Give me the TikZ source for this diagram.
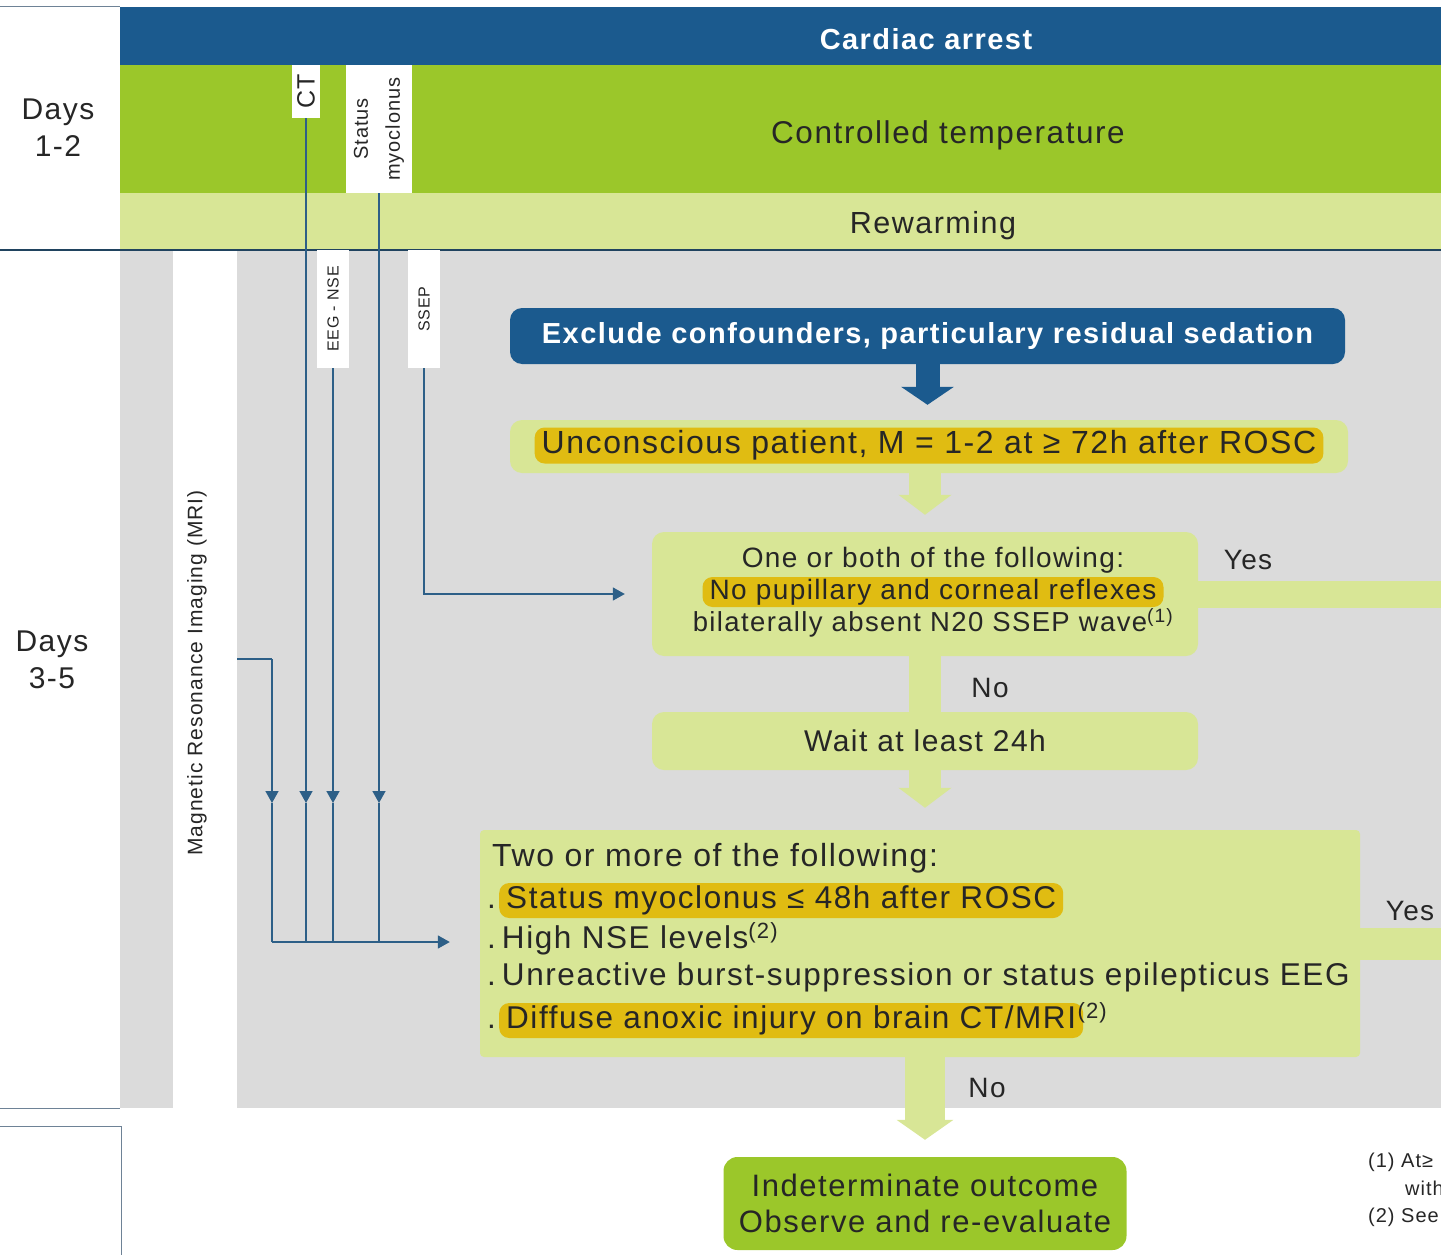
\documentclass[tikz,border=0pt]{standalone}
\usepackage{fontspec}
\setmainfont{Liberation Sans}[LetterSpace=5]
\usepackage{xcolor}
\usetikzlibrary{arrows.meta,positioning}
\definecolor{darkblue}{RGB}{27,90,142}
\definecolor{limegreen}{RGB}{155,199,42}
\definecolor{palegreen}{RGB}{216,230,150}
\definecolor{bggray}{RGB}{219,219,219}
\definecolor{golden}{RGB}{224,188,18}
\definecolor{inkgray}{RGB}{38,38,38}
\definecolor{steel}{RGB}{45,95,135}
\definecolor{rulegray}{RGB}{110,130,150}
\tikzset{%
    txt/.style={text=inkgray, inner sep=0pt, font=\fontsize{#1}{#1}\selectfont},
    txt/.default=30,
    tag/.style={fill=white, rotate=90, inner sep=0pt, text=inkgray},
    pgbox/.style={fill=palegreen, rounded corners=12pt, inner sep=0pt},
    hilite/.style={fill=golden, rounded corners=10pt, inner xsep=7pt, inner ysep=3pt, text=inkgray},
    flow/.style={draw=steel, line width=1.6pt},
    flowarr/.style={flow, -{Triangle[width=13pt,length=12pt]}},
    greenlink/.style={draw=palegreen, line width=32pt},
    greenarr/.style={greenlink, -{Triangle[width=52pt,length=20pt]}},
    bluearr/.style={draw=darkblue, line width=24pt, -{Triangle[width=52pt,length=18pt]}}
}

\begin{document}
\begin{tikzpicture}[x=1pt,y=-1pt]
    \useasboundingbox (0,0) rectangle (1441,1255);
    \clip (0,0) rectangle (1441,1255);

    % time bands
    \fill[darkblue] (120,7) rectangle (1441,65);
    \fill[limegreen] (120,65) rectangle (1441,193);
    \fill[palegreen] (120,193) rectangle (1441,250);
    \fill[bggray] (120,250) rectangle (1441,1108);
    \fill[white] (173,250) rectangle (237,1108);
    \draw[rulegray, line width=1pt] (0,7) -- (120,7);
    \draw[steel!70!black, line width=1.2pt] (0,250) -- (1441,250);
    \draw[rulegray, line width=1pt] (0,1108) -- (120,1108);
    \draw[rulegray, line width=1pt] (0,1126) -- (121,1126) -- (121,1255);

    \node[txt={30}, align=center, font=\fontsize{30}{37}\selectfont] (days12) at (58,128) {Days\\1-2};
    \node[txt={30}, align=center, font=\fontsize{30}{37}\selectfont] (days35) at (52,660) {Days\\3-5};
    \node[txt={29}, text=white, font=\fontsize{29}{29}\selectfont\bfseries] (arrest) at (926,39) {Cardiac arrest};
    \node[txt={31.5}] (temp) at (948,135) {Controlled temperature};
    \node[txt={30.5}] (rewarm) at (933,226) {Rewarming};

    % investigations
    \node[tag, minimum width=53, minimum height=28, font=\fontsize{25}{25}\selectfont] (ct) at (306,91.5) {CT};
    \node[tag, minimum width=128, minimum height=66, align=center, font=\fontsize{20}{32}\selectfont] (myo) at (379,129) {Status\\myoclonus};
    \node[tag, minimum width=118, minimum height=32, font=\fontsize{16}{16}\selectfont] (eeg) at (333,309) {EEG - NSE};
    \node[tag, minimum width=118, minimum height=32, font=\fontsize{16}{16}\selectfont] (ssep) at (424,309) {SSEP};
    \node[rotate=90, txt={21}] (mri) at (197,673) {Magnetic Resonance Imaging (MRI)};

    % flow boxes
    \node[fill=darkblue, rounded corners=12pt, minimum width=835, minimum height=56, text=white,
        font=\fontsize{29}{29}\selectfont\bfseries] (exclude) at (927.5,336) {Exclude confounders, particulary residual sedation};
    \node[pgbox, minimum width=838, minimum height=53] (uncons) at (929,446.5) {};
    \node[hilite, text height=23pt, text depth=7pt, font=\fontsize{32}{32}\selectfont] (unconstxt) at (929,445.5) {Unconscious patient, M = 1-2 at ≥ 72h after ROSC};

    \node[pgbox, minimum width=546, minimum height=124] (oneboth) at (925,594) {};
    \node[txt={28}] (ob1) at (933,560) {One or both of the following:};
    \node[hilite, inner ysep=2pt, text height=20pt, text depth=6pt, font=\fontsize{28}{28}\selectfont] (ob2) at (933,592) {No pupillary and corneal reflexes};
    \node[txt={27.5}] (ob3) at (933,623) {bilaterally absent N20 SSEP wave\textsuperscript{(1)}};

    \node[pgbox, minimum width=546, minimum height=58, text=inkgray, font=\fontsize{30}{30}\selectfont] (wait) at (925,741) {Wait at least 24h};

    \node[fill=palegreen, rounded corners=4pt, minimum width=880, minimum height=227] (two) at (920,943.5) {};
    \node[txt={32}, anchor=base west] (l1) at (492,866) {Two or more of the following:};
    \node[txt={31.5}, anchor=base west] (l2dot) at (487,908) {.};
    \node[hilite, anchor=base west, text height=22pt, text depth=7pt, font=\fontsize{31.5}{31.5}\selectfont] (l2) at (499,908) {Status myoclonus ≤ 48h after ROSC};
    \node[txt={31.5}, anchor=base west] (l3) at (487,948) {.\hspace{6pt}High NSE levels\textsuperscript{(2)}};
    \node[txt={31.5}, anchor=base west] (l4) at (487,985) {.\hspace{6pt}Unreactive burst-suppression or status epilepticus EEG};
    \node[txt={31.5}, anchor=base west] (l5dot) at (487,1028) {.};
    \node[hilite, anchor=base west, text height=22pt, text depth=7pt, font=\fontsize{31.5}{31.5}\selectfont] (l5) at (499,1028) {Diffuse anoxic injury on brain CT/MRI};
    \node[txt={31.5}, anchor=base west] (l5sup) at ([xshift=-6pt]l5.base east) {\textsuperscript{(2)}};

    \node[fill=limegreen, rounded corners=14pt, minimum width=403, minimum height=93, align=center,
        text=inkgray, font=\fontsize{31}{36}\selectfont] (indet) at (925,1203.5) {Indeterminate outcome\\Observe and re-evaluate};

    % connectors
    \coordinate (mriout) at (237,659);
    \coordinate (mrix) at (272,659);
    \coordinate (tiprow) at (0,803);
    \coordinate (joinrow) at (0,942);
    \coordinate (yes1) at (1441,594);
    \coordinate (yes2) at (1441,943.5);

    \draw[flow] (mriout) -- (mrix);
    \draw[flowarr] (mrix) -- (mrix |- tiprow);
    \draw[flow] (mrix |- tiprow) -- (mrix |- joinrow);
    \foreach \t in {ct,eeg,myo} {
        \draw[flowarr] (\t.west) -- (\t.west |- tiprow);
        \draw[flow] (\t.west |- tiprow) -- (\t.west |- joinrow);
    }
    \draw[flowarr, shorten >=30pt] (mrix |- joinrow) -- (two.west |- joinrow);
    \draw[flowarr, shorten >=27pt] (ssep.west) |- (oneboth.west);

    \draw[bluearr, shorten >=15pt] (exclude.south) -- (exclude.south |- uncons.north);
    \draw[greenarr, shorten >=17pt] (uncons.south -| oneboth.north) -- (oneboth.north);
    \draw[greenlink] (oneboth.south) -- (wait.north);
    \draw[greenarr, shorten >=22pt] (wait.south) -- (wait.south |- two.north);
    \draw[greenarr, line width=40pt, -{Triangle[width=56pt,length=20pt]}, shorten >=17pt] (two.south -| indet.north) -- (indet.north);
    \draw[greenlink, line width=27pt] (oneboth.east) -- (yes1);
    \draw[greenlink] (two.east) -- (yes2);

    \node[txt={28}] (yeslbl1) at (1248,560) {Yes};
    \node[txt={28}] (yeslbl2) at (1410,911) {Yes};
    \node[txt={28}] (nolbl1) at (990,688) {No};
    \node[txt={28}] (nolbl2) at (987,1088) {No};

    % notes
    \node[txt={20}, anchor=base west] (fn1) at (1368,1167) {(1) At≥};
    \node[txt={20}, anchor=base west] (fn1b) at (1405,1195) {with};
    \node[txt={20}, anchor=base west] (fn2) at (1368,1222) {(2) See};
\end{tikzpicture}
\end{document}
